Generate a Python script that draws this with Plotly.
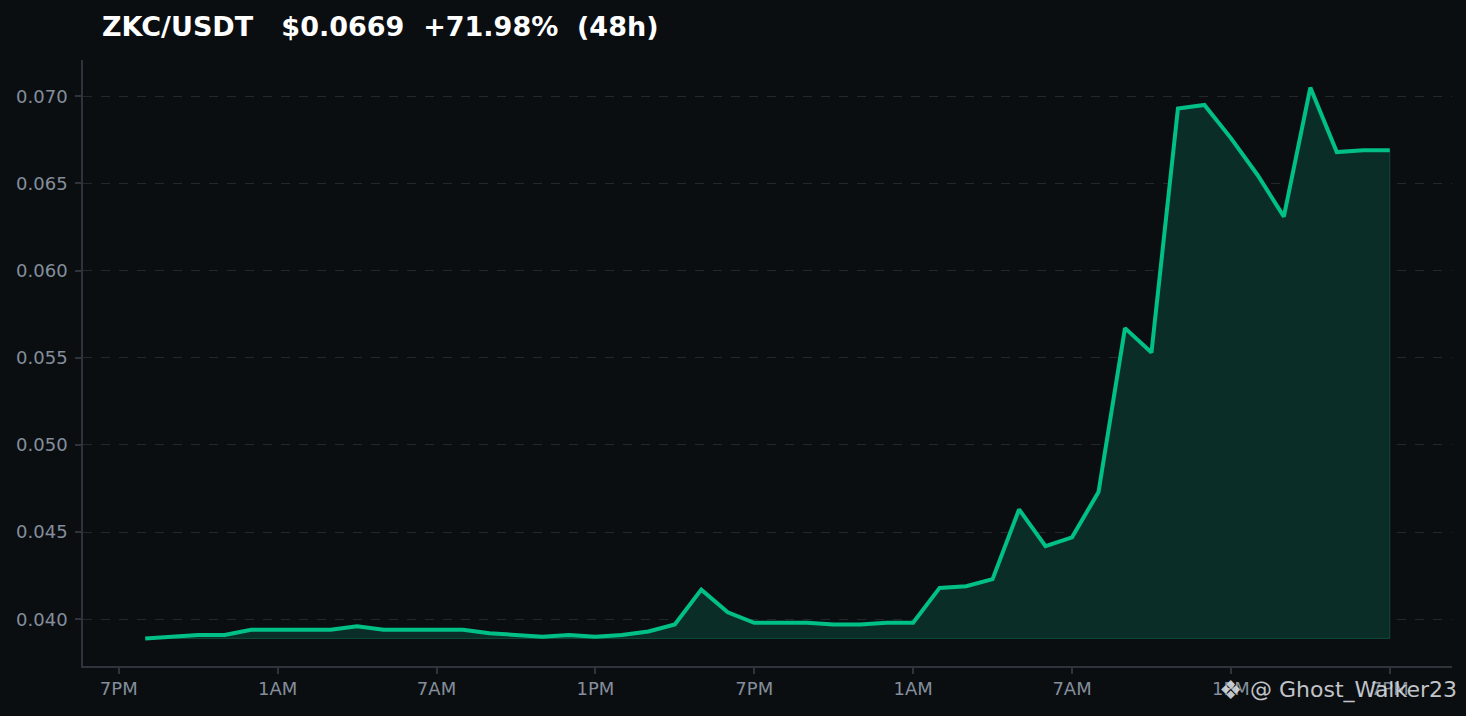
import plotly.graph_objects as go
import pandas as pd

# ZKC/USDT hourly closes, 48h window
times = pd.date_range("2025-10-06 20:00", periods=48, freq="h")
prices = [0.0389, 0.0390, 0.0391, 0.0391, 0.0394, 0.0394, 0.0394, 0.0394,
          0.0396, 0.0394, 0.0394, 0.0394, 0.0394, 0.0392, 0.0391, 0.0390,
          0.0391, 0.0390, 0.0391, 0.0393, 0.0397, 0.0417, 0.0404, 0.0398,
          0.0398, 0.0398, 0.0397, 0.0397, 0.0398, 0.0398, 0.0418, 0.0419,
          0.0423, 0.0463, 0.0442, 0.0447, 0.0473, 0.0567, 0.0553, 0.0693,
          0.0695, 0.0676, 0.0655, 0.0631, 0.0705, 0.0668, 0.0669, 0.0669]
title_txt = "ZKC/USDT   $0.0669  +71.98%  (48h)"
watermark = "@ Ghost_Walker23"

bg = "#0b0e11"
green = "#00c087"
base = min(prices)

t = list(times)
span = t[-1] - t[0]
pad = span * 0.05
ymin, ymax = min(prices), max(prices)
ypad = (ymax - ymin) * 0.05

fig = go.Figure()

# shaded area between price and the lowest close
fig.add_trace(go.Scatter(
    x=t + t[::-1], y=prices + [base] * len(t),
    fill="toself", fillcolor="#0a2e27",
    line=dict(color="#0e4a3a", width=1),
    mode="lines", hoverinfo="skip", showlegend=False))

fig.add_trace(go.Scatter(
    x=t, y=prices, mode="lines",
    line=dict(color=green, width=4),
    showlegend=False))

fig.update_xaxes(
    range=[t[0] - pad, t[-1] + pad],
    tick0="2025-10-06 19:00", dtick=6 * 3600 * 1000,
    tickformat="%-I%p",
    showgrid=False, zeroline=False,
    showline=True, linecolor="#2f343c", linewidth=1.5,
    ticks="outside", ticklen=6, tickcolor="#2f343c", tickwidth=1.5,
    tickfont=dict(color="#848e9c", size=18, family="DejaVu Sans"))

fig.update_yaxes(
    range=[ymin - ypad, ymax + ypad],
    tick0=0.040, dtick=0.005, tickformat=".3f",
    showgrid=True, gridcolor="#23272e", griddash="dash", gridwidth=1,
    zeroline=False,
    showline=True, linecolor="#2f343c", linewidth=1.5,
    ticks="outside", ticklen=6, tickcolor="#2f343c", tickwidth=1.5,
    ticklabelstandoff=4,
    tickfont=dict(color="#848e9c", size=18, family="DejaVu Sans"))

fig.update_layout(
    width=1466, height=716,
    plot_bgcolor=bg, paper_bgcolor=bg,
    margin=dict(l=83, r=14, t=60, b=50),
    title=dict(text="<b>" + title_txt + "</b>", xref="container", yref="container",
               x=102 / 1466, xanchor="left", y=1 - 27 / 716, yanchor="middle",
               font=dict(color="white", size=27, family="DejaVu Sans")),
    font=dict(family="DejaVu Sans"))

# watermark: logo glyph + handle
fig.add_annotation(
    text="❖", xref="paper", yref="paper",
    x=(1230 - 83) / 1369, y=-24 / 606, xanchor="center", yanchor="middle",
    showarrow=False, font=dict(color="#d5d8dc", size=26, family="DejaVu Sans"),
    opacity=0.9)
fig.add_annotation(
    text=watermark, xref="paper", yref="paper",
    x=(1459 - 83) / 1369, y=-24 / 606, xanchor="right", yanchor="middle",
    showarrow=False, font=dict(color="#d5d8dc", size=22, family="DejaVu Sans"),
    opacity=0.9)

fig.write_html("out.html", config={"displayModeBar": False},
               post_script="document.body.style.margin='0';document.body.style.background='#0b0e11';")
